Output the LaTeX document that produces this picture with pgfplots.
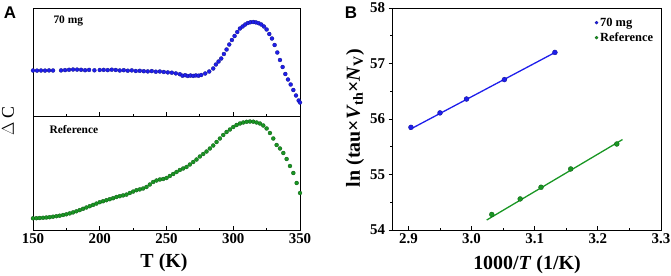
\documentclass[border=0pt]{standalone}
\usepackage{pgfplots}
\pgfplotsset{compat=1.18}
\usepackage{fontspec}
\setmainfont{Liberation Serif}
\newfontfamily\panelfont{Liberation Sans}
\definecolor{myblue}{RGB}{30,30,235}
\definecolor{mygreen}{RGB}{25,150,35}
\begin{document}
\begin{tikzpicture}
\path[use as bounding box] (0,0) rectangle (671bp,276bp);
\pgfplotsset{
  every axis/.append style={scale only axis, axis line style={line width=0.9pt, black},
    /pgf/number format/assume math mode=true,
    ticklabel style={font=\bfseries\fontsize{15}{17}\selectfont},
    major tick length=3.5bp, minor tick length=2bp,
    every tick/.style={black, line width=0.8pt}},
  bluedot/.style={only marks, mark=*, mark size=#1, mark options={fill=myblue, draw=myblue!60!black, line width=0.3pt}},
  greendot/.style={only marks, mark=*, mark size=#1, mark options={fill=mygreen, draw=mygreen!60!black, line width=0.3pt}},
}
% Panel A upper
\begin{axis}[at={(33bp,160bp)}, anchor=south west, width=267bp, height=108bp,
  xmin=150, xmax=350, ymin=0, ymax=108, ytick=\empty,
  xtick={150,200,...,350}, xticklabels={}, minor x tick num=1,
  tick align=inside, xtick pos=bottom]
\addplot[bluedot=2pt] coordinates {
(150,45.5)(153,45.4)(156,45.5)(159,45.4)(162,45.6)(165,45.5)
(171,45.6)(174,45.9)(177,46.2)(180,46.5)(183,46.4)(186,46.2)(189,45.8)(192,46.1)(196,45.7)
(200,46.0)(203,46.1)(206,45.9)(209,46.3)(212,46.0)(215,45.5)(218,45.8)(221,45.3)(224,45.6)
(227,45.0)(230,45.2)(233,44.8)(236,44.6)(239,44.9)(242,44.3)(245,44.5)(248,44.0)(251,43.6)
(254,43.3)(257,42.6)(260,41.8)(262,40.3)(264,40.8)(266,40.0)(268,40.5)(270,40.1)(272,40.6)
(274,40.3)(276,41.0)(279,42.5)(282,44.5)(285,47.5)(287,51.5)(289,54.5)(291,57.5)(293,62.0)
(295,66.5)(297,71.5)(299,76.0)(301,80.0)(303,84.0)(305,87.5)(307,89.5)(309,91.5)(311,93.0)
(313,93.8)(315,94.0)(317,93.6)(319,92.8)(321,91.5)(323,89.5)(325,86.5)(327,82.0)(329,77.5)
(331,71.0)(333,63.5)(335,56.0)(337,49.0)(339,42.0)(341,36.5)(343,31.5)(345,26.0)(347,20.5)
(349,15.5)(350,13.5)};
\end{axis}
% Panel A lower
\begin{axis}[at={(33bp,46bp)}, anchor=south west, width=267bp, height=114bp,
  xmin=150, xmax=350, ymin=0, ymax=114, ytick=\empty,
  xtick={150,200,...,350}, minor x tick num=1,
  tick align=inside, xtick pos=bottom]
\addplot[greendot=2pt] coordinates {
(150,11.7)(152.5,11.8)(155,12.0)(157.5,12.2)(160,12.5)(162.5,12.8)(165,13.3)(167.5,13.8)
(170,14.3)(172.5,15.0)(175,15.7)(177.5,16.6)(180,17.6)(182.5,18.7)(185,19.9)(187.5,21.2)
(190,22.5)(192.5,23.8)(195,25.1)(197.5,26.4)(200,27.8)(202.5,28.8)(205,29.8)(207.5,30.8)
(210,31.8)(212.5,33.0)(215,33.8)(217.5,34.6)(220,35.4)(222.5,37.0)(225,38.4)(227.5,39.8)
(230,40.6)(232.5,41.5)(235,43.0)(237.5,45.5)(240,48.0)(242.5,49.5)(245,50.5)(247.5,51.0)
(250,52.0)(252.5,54.0)(255,56.0)(257.5,58.0)(260,60.0)(262.5,61.5)(265,63.0)(267.5,65.5)
(270,68.0)(272.5,70.5)(275,73.5)(277.5,76.0)(280,78.5)(282.5,81.5)(285,84.5)(287.5,88.0)
(290,91.5)(292.5,95.0)(295,98.0)(297.5,100.5)(300,103.0)(302.5,105.0)(305,106.5)(307.5,107.5)
(310,108.2)(312.5,108.5)(315,108.3)(317.5,107.5)(320,106.5)(322.5,104.5)(325,101.5)(327.5,97.0)
(330,91.5)(332.5,85.0)(335,81.5)(337.5,77.0)(340,71.0)(342.5,64.0)(345,57.0)(347.5,47.0)
(350,37.0)};
\end{axis}
% Panel B
\begin{axis}[at={(392bp,46bp)}, anchor=south west, width=269bp, height=222bp,
  xmin=2.874, xmax=3.3, ymin=54, ymax=58,
  xtick={2.9,3.0,3.1,3.2,3.3}, xticklabels={2.9,3.0,3.1,3.2,3.3},
  ytick={54,55,56,57,58}, yticklabels={54,55,56,57,58},
  minor x tick num=1, minor y tick num=1,
  xtick align=inside, ytick align=outside, tick pos=left,
  legend style={draw=none, fill=none, at={(0.99,0.975)}, anchor=north east,
    font=\bfseries\fontsize{12.5}{14}\selectfont, row sep=1pt},
  legend cell align=left]
\addplot[bluedot=1.6pt] coordinates {
(2.904,55.85)(2.950,56.11)(2.992,56.36)(3.052,56.71)(3.132,57.20)};
\addlegendentry{70 mg}
\addplot[greendot=1.6pt] coordinates {
(3.032,54.28)(3.077,54.56)(3.110,54.77)(3.157,55.10)(3.230,55.55)};
\addlegendentry{Reference}
\addplot[forget plot, myblue, line width=1.3pt] coordinates {(2.902,55.81)(3.134,57.21)};
\addplot[forget plot, mygreen, line width=1.3pt] coordinates {(3.024,54.18)(3.239,55.63)};
\addplot[forget plot, bluedot=2.5pt] coordinates {
(2.904,55.85)(2.950,56.11)(2.992,56.36)(3.052,56.71)(3.132,57.20)};
\addplot[forget plot, greendot=2.5pt] coordinates {
(3.032,54.28)(3.077,54.56)(3.110,54.77)(3.157,55.10)(3.230,55.55)};
\end{axis}
% labels
\node[font=\panelfont\bfseries\fontsize{17}{18}\selectfont] at (10bp,263bp) {A};
\node[font=\panelfont\bfseries\fontsize{17}{18}\selectfont] at (351bp,263bp) {B};
\node[font=\bfseries\fontsize{11.5}{13}\selectfont, anchor=west] at (50bp,255bp) {70 mg};
\node[font=\bfseries\fontsize{11.5}{13}\selectfont, anchor=west] at (46bp,146bp) {Reference};
\node[rotate=90, font=\fontsize{18}{19}\selectfont] at (8bp,155bp) {$\Delta$\,C};
\node[font=\bfseries\fontsize{20}{22}\selectfont] at (164bp,13bp) {T (K)};
\node[font=\bfseries\fontsize{20}{22}\selectfont] at (527bp,11bp) {1000/\textit{T} (1/K)};
\node[rotate=90, font=\bfseries\fontsize{20}{22}\selectfont] at (355bp,158bp)
  {ln (tau×\textit{V}\textsubscript{th}×\textit{N}\textsubscript{V})};
\end{tikzpicture}
\end{document}
